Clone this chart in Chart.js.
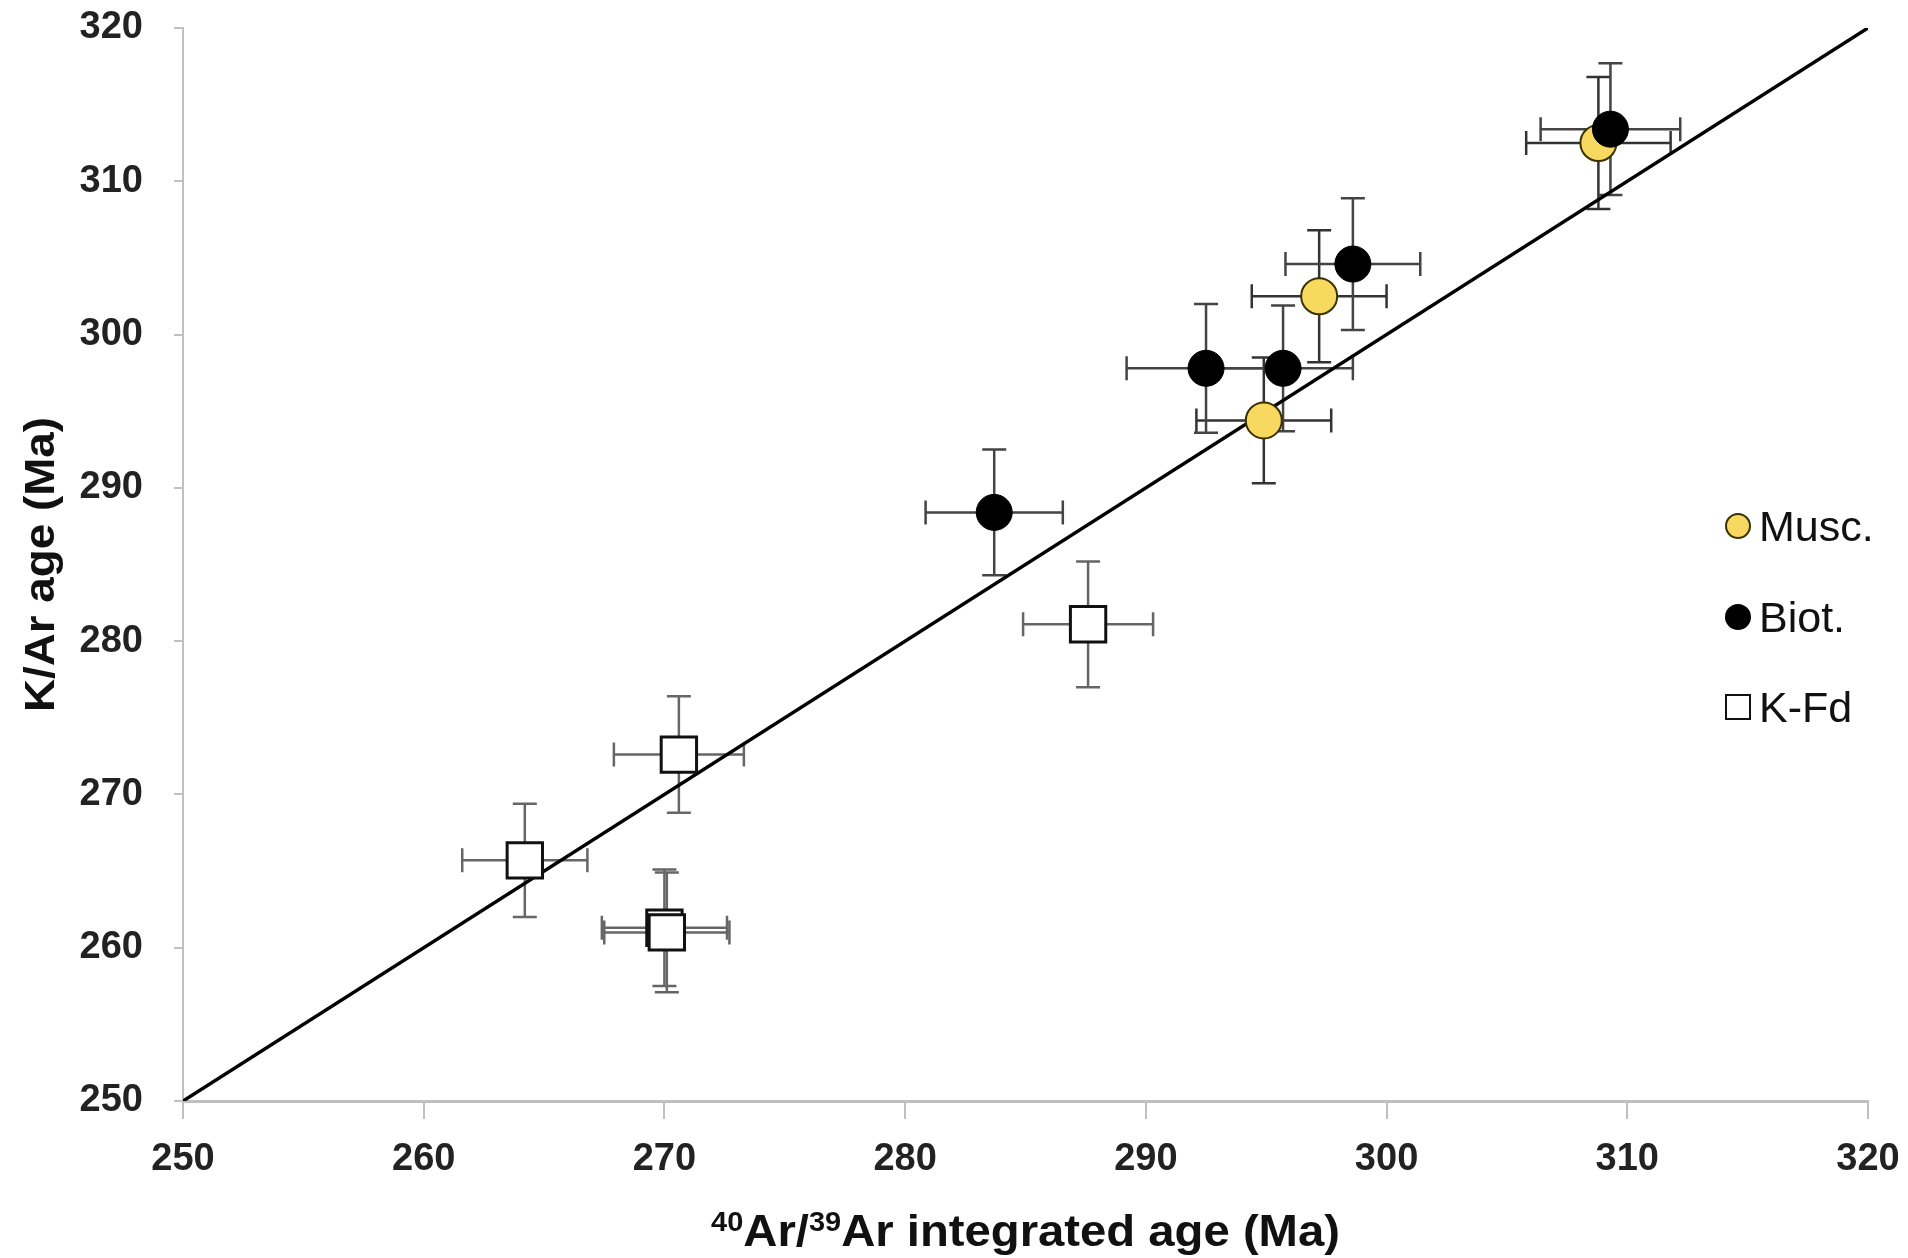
<!DOCTYPE html>
<html>
<head>
<meta charset="utf-8">
<script src="https://cdn.jsdelivr.net/npm/chart.js@4.4.1/dist/chart.umd.min.js"></script>
<style>
  html, body { margin: 0; padding: 0; background: #fff; }
  #wrap { width: 1908px; height: 1258px; }
</style>
</head>
<body>
<div id="wrap"><canvas id="myChart" width="1908" height="1258"></canvas></div>
<script>
// axis range / ticks
var axisMin = 250
var axisMax = 320
var tickStep = 10

// Musc. (x = 40Ar/39Ar integrated age, y = K/Ar age, errors are +/-)
var muscX = [308.8, 297.2, 294.9]
var muscY = [312.5, 302.5, 294.4]
var muscXErr = [3.0, 2.8, 2.8]
var muscYErr = [4.3, 4.3, 4.1]

// Biot.
var biotX = [309.3, 298.6, 292.5, 295.7, 283.7]
var biotY = [313.4, 304.6, 297.8, 297.8, 288.4]
var biotXErr = [2.9, 2.8, 3.3, 2.9, 2.85]
var biotYErr = [4.3, 4.3, 4.2, 4.1, 4.1]

// K-Fd
var kfdX = [287.6, 270.6, 264.2, 270.0, 270.1]
var kfdY = [281.1, 272.6, 265.7, 261.3, 261.0]
var kfdXErr = [2.7, 2.7, 2.6, 2.6, 2.6]
var kfdYErr = [4.1, 3.8, 3.7, 3.8, 3.9]

// 1:1 line
var lineX = [250, 320]
var lineY = [250, 320]

var seriesNames = ['Musc.', 'Biot.', 'K-Fd']

function toPoints(xs, ys) {
    var out = []
    for (var i = 0; i < xs.length; i++) {
        out.push({ x: xs[i], y: ys[i] })
    }
    return out
}

// error bars drawn through the chart scales
var errorBars = {
    id: 'errorBars',
    beforeDatasetsDraw: function (chart) {
        var ctx = chart.ctx
        var xs = chart.scales.x
        var ys = chart.scales.y
        var cap = 12
        chart.data.datasets.forEach(function (ds) {
            if (!ds.xErr) return
            ctx.save()
            ctx.strokeStyle = ds.errColor
            ctx.lineWidth = 2.5
            ds.data.forEach(function (p, i) {
                var px = xs.getPixelForValue(p.x)
                var py = ys.getPixelForValue(p.y)
                var x0 = xs.getPixelForValue(p.x - ds.xErr[i])
                var x1 = xs.getPixelForValue(p.x + ds.xErr[i])
                var y0 = ys.getPixelForValue(p.y - ds.yErr[i])
                var y1 = ys.getPixelForValue(p.y + ds.yErr[i])
                ctx.beginPath()
                ctx.moveTo(x0, py); ctx.lineTo(x1, py)
                ctx.moveTo(px, y0); ctx.lineTo(px, y1)
                ctx.moveTo(x0, py - cap); ctx.lineTo(x0, py + cap)
                ctx.moveTo(x1, py - cap); ctx.lineTo(x1, py + cap)
                ctx.moveTo(px - cap, y0); ctx.lineTo(px + cap, y0)
                ctx.moveTo(px - cap, y1); ctx.lineTo(px + cap, y1)
                ctx.stroke()
            })
            ctx.restore()
        })
    }
}

// axis titles (with superscripts) and the legend inside the plot
var titlesAndLegend = {
    id: 'titlesAndLegend',
    afterDraw: function (chart) {
        var ctx = chart.ctx
        var area = chart.chartArea
        ctx.save()
        ctx.fillStyle = '#111'
        ctx.textBaseline = 'alphabetic'

        // x title
        var big = 'bold 44px "Liberation Sans", Arial, sans-serif'
        var small = 'bold 27px "Liberation Sans", Arial, sans-serif'
        var parts = [['40', true], ['Ar/', false], ['39', true], ['Ar integrated age (Ma)', false]]
        var total = 0
        parts.forEach(function (p) { ctx.font = p[1] ? small : big; total += ctx.measureText(p[0]).width })
        var targetW = 629
        var sx = targetW / total
        var cx = (area.left + area.right) / 2
        ctx.save()
        ctx.translate(cx - targetW / 2, 1246)
        ctx.scale(sx, 1)
        var pos = 0
        parts.forEach(function (p) {
            ctx.font = p[1] ? small : big
            ctx.textAlign = 'left'
            ctx.fillText(p[0], pos, p[1] ? -15 : 0)
            pos += ctx.measureText(p[0]).width
        })
        ctx.restore()

        // y title
        ctx.save()
        ctx.font = 'bold 42px "Liberation Sans", Arial, sans-serif'
        var yt = 'K/Ar age (Ma)'
        var w = ctx.measureText(yt).width
        var cy = (area.top + area.bottom) / 2
        ctx.translate(54, cy)
        ctx.rotate(-Math.PI / 2)
        ctx.scale(295 / w, 1)
        ctx.textAlign = 'center'
        ctx.fillText(yt, 0, 0)
        ctx.restore()

        // legend
        var rows = [526, 617, 707]
        var mx = 1738
        ctx.font = '43px "Liberation Sans", Arial, sans-serif'
        ctx.textAlign = 'left'
        ctx.textBaseline = 'middle'
        for (var i = 0; i < 3; i++) {
            var ds = chart.data.datasets[i]
            ctx.lineWidth = 2
            ctx.strokeStyle = ds.borderColor
            ctx.fillStyle = ds.backgroundColor
            ctx.beginPath()
            if (ds.pointStyle === 'rect') {
                ctx.rect(mx - 12, rows[i] - 12, 24, 24)
            } else {
                ctx.arc(mx, rows[i], 12, 0, Math.PI * 2)
            }
            ctx.fill()
            ctx.stroke()
            ctx.fillStyle = '#111'
            ctx.fillText(seriesNames[i], mx + 21, rows[i] + 3)
        }
        ctx.restore()
    }
}

var tickFont = { family: '"Liberation Sans", Arial, sans-serif', size: 38, weight: 'bold' }

var chart = new Chart(document.getElementById('myChart').getContext('2d'), {
    type: 'scatter',
    data: {
        datasets: [
            {
                label: seriesNames[0],
                data: toPoints(muscX, muscY),
                xErr: muscXErr, yErr: muscYErr, errColor: '#333',
                backgroundColor: '#f6d95e', borderColor: '#3a3000', borderWidth: 2,
                pointRadius: 18, pointStyle: 'circle', order: 1
            },
            {
                label: seriesNames[1],
                data: toPoints(biotX, biotY),
                xErr: biotXErr, yErr: biotYErr, errColor: '#444',
                backgroundColor: '#000', borderColor: '#000', borderWidth: 1,
                pointRadius: 18, pointStyle: 'circle', order: 0
            },
            {
                label: seriesNames[2],
                data: toPoints(kfdX, kfdY),
                xErr: kfdXErr, yErr: kfdYErr, errColor: '#666',
                backgroundColor: '#fff', borderColor: '#111', borderWidth: 3,
                pointRadius: 25, pointStyle: 'rect', order: 2
            },
            {
                type: 'line',
                label: '1:1',
                data: toPoints(lineX, lineY),
                borderColor: '#000', borderWidth: 3.5,
                pointRadius: 0, fill: false, order: 10
            }
        ]
    },
    options: {
        responsive: false,
        animation: false,
        layout: { padding: { top: 27, right: 40, left: 0, bottom: 0 } },
        plugins: {
            legend: { display: false },
            tooltip: { enabled: false }
        },
        scales: {
            x: {
                type: 'linear',
                min: axisMin, max: axisMax,
                ticks: { stepSize: tickStep, color: '#222', font: tickFont, padding: 18, maxRotation: 0 },
                grid: { drawOnChartArea: false, drawTicks: true, tickLength: 18, color: '#c0c0c0', lineWidth: 2 },
                border: { color: '#c0c0c0', width: 3 },
                afterFit: function (scale) {
                    scale.height = 157
                    scale.paddingLeft = 0
                    scale.paddingRight = 0
                }
            },
            y: {
                type: 'linear',
                min: axisMin, max: axisMax,
                ticks: { stepSize: tickStep, color: '#222', font: tickFont, padding: 31 },
                grid: { drawOnChartArea: false, drawTicks: true, tickLength: 9, color: '#c0c0c0', lineWidth: 2 },
                border: { color: '#c0c0c0', width: 2 },
                afterFit: function (scale) {
                    scale.width = 183
                    scale.paddingTop = 0
                    scale.paddingBottom = 0
                }
            }
        }
    },
    plugins: [errorBars, titlesAndLegend]
});
</script>
</body>
</html>
